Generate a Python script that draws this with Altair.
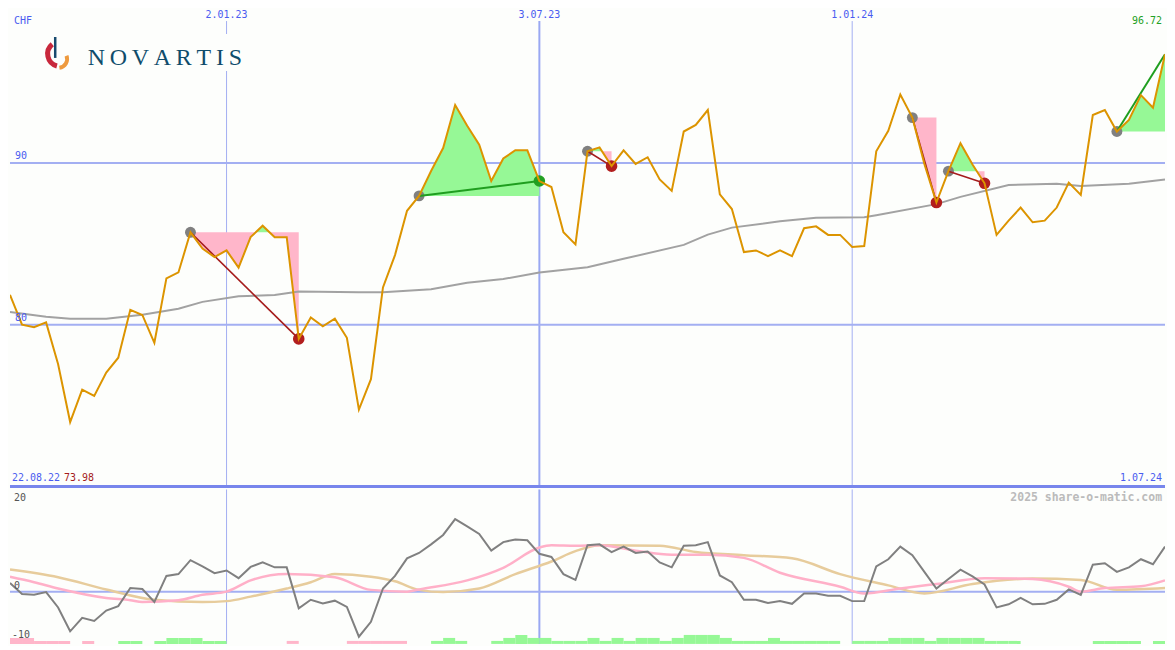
import altair as alt
import pandas as pd

# ---------------- data ----------------
START = "2022-08-29"
END = "2024-07-01"

# weekly closing price (CHF), one value per week from START
price = [81.84, 80.0, 79.84, 80.14, 77.55, 73.98, 75.98, 75.6, 77.04, 77.96,
         80.92, 80.6, 78.88, 82.86, 83.23, 85.71, 84.7, 84.18, 84.59, 83.53,
         85.41, 86.12, 85.41, 85.41, 79.12, 80.45, 79.9, 80.37, 79.19, 74.75,
         76.63, 82.3, 84.3, 87.04, 87.96, 89.5, 90.92, 93.58, 92.29, 91.12,
         88.88, 90.27, 90.78, 90.78, 88.88, 88.51, 85.71, 84.96, 90.72, 90.96,
         89.8, 90.78, 89.94, 90.35, 88.98, 88.27, 91.94, 92.35, 93.27, 88.06,
         87.15, 84.49, 84.59, 84.24, 84.59, 84.24, 85.96, 86.08, 85.55, 85.55,
         84.8, 84.86, 90.72, 91.98, 94.23, 92.8, 89.94, 87.55, 89.49, 91.22,
         89.9, 88.74, 85.55, 86.43, 87.24, 86.33, 86.43, 87.24, 88.78, 88.02,
         92.96, 93.27, 91.94, 92.66, 94.19, 93.41, 96.72]

# long moving average (week index, value)
ma_week = [0, 3, 5, 8, 11, 14, 16, 19, 22, 24, 29, 31, 35, 38, 41, 44, 48, 51, 56, 58,
           60, 64, 67, 71, 72, 77, 79, 83, 87, 89, 93, 96]
ma_val = [80.78, 80.49, 80.37, 80.37, 80.61, 80.98, 81.41, 81.75, 81.84, 82.05,
          82.0, 82.0, 82.19, 82.59, 82.82, 83.23, 83.55, 84.07, 84.93, 85.57,
          86.0, 86.39, 86.61, 86.64, 86.77, 87.45, 87.9, 88.63, 88.71, 88.57,
          88.71, 88.98]

# oscillator (one per week)
osc = [1.9, -0.5, -0.7, -0.1, -3.5, -8.8, -5.8, -6.5, -4.2, -3.2,
       0.8, 0.6, -2.3, 3.5, 3.9, 7.0, 5.6, 4.1, 4.7, 3.0,
       5.5, 6.5, 5.4, 5.4, -3.7, -1.8, -2.6, -2.0, -3.4, -10.0,
       -6.7, 0.7, 3.5, 7.4, 8.6, 10.5, 12.6, 16.1, 14.5, 12.8,
       9.1, 11.0, 11.6, 11.4, 8.4, 7.7, 3.9, 2.6, 10.3, 10.5,
       8.8, 10.0, 8.6, 8.9, 6.5, 5.4, 10.2, 10.3, 11.0, 3.6,
       2.1, -1.8, -1.8, -2.5, -2.1, -2.7, -0.4, -0.4, -0.9, -0.9,
       -2.1, -2.1, 5.6, 7.2, 10.0, 8.1, 4.4, 0.7, 2.8, 4.9,
       3.4, 1.6, -3.5, -2.8, -1.4, -2.8, -2.7, -1.8, 0.5, -0.7,
       6.0, 6.3, 4.4, 5.4, 7.2, 6.1, 10.0]

# smoothed oscillator lines
pk_week = [0, 2, 4, 8, 10, 11, 14, 16, 18, 20, 23, 27, 30, 33, 34, 38, 41, 44, 45, 47,
           49, 52, 55, 58, 61, 64, 69, 71, 74, 77, 81, 85, 88, 89, 91, 94, 96]
pk_val = [3.3, 2.1, 0.7, -1.4, -1.9, -2.3, -1.9, -0.7, 0.0, 2.5, 3.9, 3.2, 0.4, 0.0, 0.5,
          2.5, 5.3, 9.8, 10.3, 10.2, 10.3, 9.1, 8.2, 8.2, 7.5, 4.2, 1.1, -0.4, 0.7, 1.7,
          3.0, 2.8, 1.1, 0.0, 0.8, 1.2, 2.5]
tn_week = [0, 4, 8, 12, 16, 18, 20, 23, 25, 27, 30, 32, 34, 36, 39, 42, 45, 47, 49, 54,
           57, 61, 65, 69, 73, 76, 80, 85, 89, 92, 96]
tn_val = [4.9, 3.2, 0.5, -1.8, -2.3, -2.1, -1.1, 0.7, 2.1, 3.9, 3.3, 2.3, 0.4, -0.1, 0.7,
          3.9, 6.7, 9.0, 10.3, 10.2, 8.8, 8.1, 7.4, 3.9, 1.4, -0.4, 1.7, 2.9, 2.6, 0.4, 0.8]

# weekly histogram levels (sign = colour, magnitude = height)
hist = [-2, -2, -1, -1, -1, 0, -1, 0, 0, 1,
        1, 0, 1, 2, 2, 2, 1, 1, 0, 0,
        0, 0, 0, -1, 0, 0, 0, 0, -1, -1,
        -1, -1, -1, 0, 0, 1, 2, 1, 0, 0,
        1, 2, 3, 2, 2, 1, 1, 1, 2, 1,
        2, 1, 2, 2, 1, 2, 3, 3, 3, 2,
        1, 1, 1, 2, 1, 1, 1, 1, 1, 0,
        1, 1, 1, 2, 2, 2, 1, 2, 2, 2,
        2, 1, 1, 1, 0, 0, 0, 0, 0, 0,
        1, 1, 1, 1, 0, 1, 0]

# trade signals (start week, end week)
sig_start = [15, 34, 48, 75, 78, 92]
sig_end = [24, 44, 50, 77, 81, 96]
sig_closed = [True, True, True, True, True, False]

price_levels = [90, 80]
price_level_labels = ["90", "80"]
grid_dates = ["2023-01-02", "2023-07-03", "2024-01-01"]
grid_labels = ["2.01.23", "3.07.23", "1.01.24"]
half_year = "2023-07-03"
osc_labels = ["20", "0", "-10"]
first_date_label = "22.08.22"
last_date_label = "1.07.24"
low_label = "73.98"
high_label = "96.72"
currency_label = "CHF"
company = "NOVARTIS"
credit = "2025 share-o-matic.com"

# ---------------- layout / style ----------------
REF_W, REF_TOP, REF_BOT = 1175, 487, 650
W = 1159                    # fits the page width (8px margins)
SX = W / REF_W
TOP_OFF = 8                 # top panel shows reference rows 8..487 unscaled
H_TOP = REF_TOP - TOP_OFF
H_BOT = 155
SYB = H_BOT / (REF_BOT - REF_TOP)


def px(x):
    return x * SX


def yt(y):
    return y - TOP_OFF


def yb(y):
    return (y - REF_TOP) * SYB


BG = "#FDFEFC"
GRID = "#A3AFF2"
GRID_HALF = "#9AA8F2"
LBL = "#4A5CF0"
MONO = "DejaVu Sans Mono"
PINK = "#FFB6CA"
GREEN = "#96F896"
LOSS_LINE = "#A51C1C"
LOSS_DOT = "#B21E1E"
GAIN_LINE = "#1F9E1F"
GAIN_DOT = "#23A023"

t0 = pd.Timestamp(START)
span = (pd.Timestamp(END) - t0).days
xs = alt.Scale(domain=[0, span], nice=False, zero=False)
ys_top = alt.Scale(domain=[70, 100 - TOP_OFF * 30.0 / REF_TOP], nice=False, zero=False)
ys_bot = alt.Scale(domain=[-11.6, 22.7], nice=False, zero=False)


def X(f="d"):
    return alt.X(f"{f}:Q", scale=xs, axis=None)


weeks = list(range(len(price)))
df = pd.DataFrame({"d": [7 * i for i in weeks], "price": price, "osc": osc})
df_ma = pd.DataFrame({"d": [7 * i for i in ma_week], "v": ma_val})
df_pk = pd.DataFrame({"d": [7 * i for i in pk_week], "v": pk_val})
df_tn = pd.DataFrame({"d": [7 * i for i in tn_week], "v": tn_val})
df_hist = pd.DataFrame({
    "d": [7 * i for i in weeks],
    "d2": [7 * (i + 1) for i in weeks],
    "h": [abs(h) for h in hist],
    "neg": [h < 0 for h in hist],
})
df_hist = df_hist[df_hist["h"] > 0]

df_grid = pd.DataFrame({
    "d": [(pd.Timestamp(g) - t0).days for g in grid_dates],
    "lbl": grid_labels,
    "half": [g == half_year for g in grid_dates],
})
df_lvl = pd.DataFrame({"v": price_levels, "lbl": price_level_labels})

# fills between the signal entry level and the price line
rows = []
for k, (s, e) in enumerate(zip(sig_start, sig_end)):
    lvl = price[s]
    pts = []
    for i in range(s, e):
        x0, y0, x1, y1 = 7 * i, price[i], 7 * (i + 1), price[i + 1]
        pts.append((x0, y0))
        if (y0 - lvl) * (y1 - lvl) < 0:
            t = (lvl - y0) / (y1 - y0)
            pts.append((x0 + t * (x1 - x0), lvl))
    pts.append((7 * e, price[e]))
    for x, y in pts:
        rows.append({"sig": k, "d": x, "lvl": lvl, "hi": max(y, lvl), "lo": min(y, lvl)})
df_fill = pd.DataFrame(rows)

seg_rows = []
for k, (s, e) in enumerate(zip(sig_start, sig_end)):
    gain = price[e] > price[s]
    seg_rows.append({"sig": k, "d": 7 * s, "p": price[s], "gain": gain})
    seg_rows.append({"sig": k, "d": 7 * e, "p": price[e], "gain": gain})
df_seg = pd.DataFrame(seg_rows)
df_start = pd.DataFrame({"d": [7 * s for s in sig_start], "p": [price[s] for s in sig_start]})
df_end = pd.DataFrame({
    "d": [7 * e for e, c in zip(sig_end, sig_closed) if c],
    "p": [price[e] for e, c in zip(sig_end, sig_closed) if c],
    "gain": [price[e] > price[s] for s, e, c in zip(sig_start, sig_end, sig_closed) if c],
})

one = pd.DataFrame({"a": [0]})

# ---------------- top panel ----------------
vgrid_thin = alt.Chart(df_grid).transform_filter("!datum.half").mark_rule(
    color=GRID, strokeWidth=1).encode(x=X(), y=alt.value(yt(20)), y2=alt.value(H_TOP))
vgrid_half = alt.Chart(df_grid).transform_filter("datum.half").mark_rule(
    color=GRID_HALF, strokeWidth=2).encode(x=X(), y=alt.value(yt(20)), y2=alt.value(H_TOP))
hgrid = alt.Chart(df_lvl).mark_rule(color=GRID, strokeWidth=2).encode(
    y=alt.Y("v:Q", scale=ys_top, axis=None))
sep = alt.Chart(one).mark_rule(color="#7886EC", strokeWidth=3).encode(
    x=alt.value(0), x2=alt.value(W), y=alt.value(H_TOP))

fill_g = alt.Chart(df_fill).mark_area(color=GREEN, opacity=1, clip=True).encode(
    x=X(), y=alt.Y("hi:Q", scale=ys_top, axis=None), y2="lvl:Q", detail="sig:N")
fill_p = alt.Chart(df_fill).mark_area(color=PINK, opacity=1, clip=True).encode(
    x=X(), y=alt.Y("lo:Q", scale=ys_top, axis=None), y2="lvl:Q", detail="sig:N")

ma_line = alt.Chart(df_ma).mark_line(color="#A2A2A2", strokeWidth=2, clip=True).encode(
    x=X(), y=alt.Y("v:Q", scale=ys_top, axis=None))
start_dots = alt.Chart(df_start).mark_circle(color="#808080", size=120, opacity=1).encode(
    x=X(), y=alt.Y("p:Q", scale=ys_top, axis=None))
end_loss = alt.Chart(df_end).transform_filter("!datum.gain").mark_circle(
    color=LOSS_DOT, size=135, opacity=1).encode(x=X(), y=alt.Y("p:Q", scale=ys_top, axis=None))
end_gain = alt.Chart(df_end).transform_filter("datum.gain").mark_circle(
    color=GAIN_DOT, size=135, opacity=1).encode(x=X(), y=alt.Y("p:Q", scale=ys_top, axis=None))
seg_loss = alt.Chart(df_seg).transform_filter("!datum.gain").mark_line(
    color=LOSS_LINE, strokeWidth=1.6).encode(
    x=X(), y=alt.Y("p:Q", scale=ys_top, axis=None), detail="sig:N")
seg_gain = alt.Chart(df_seg).transform_filter("datum.gain").mark_line(
    color=GAIN_LINE, strokeWidth=2, clip=True).encode(
    x=X(), y=alt.Y("p:Q", scale=ys_top, axis=None), detail="sig:N")
price_line = alt.Chart(df).mark_line(color="#DC9400", strokeWidth=2, clip=True).encode(
    x=X(), y=alt.Y("price:Q", scale=ys_top, axis=None))

date_txt = alt.Chart(df_grid).mark_text(font=MONO, fontSize=10, color=LBL,
                                        baseline="middle", align="center").encode(
    x=X(), y=alt.value(6), text="lbl:N")
lvl_txt = alt.Chart(df_lvl).mark_text(font=MONO, fontSize=10, color=LBL, align="left",
                                      baseline="middle", dy=-7).encode(
    x=alt.value(px(5)), y=alt.Y("v:Q", scale=ys_top, axis=None), text="lbl:N")


def label(txt, x, y, color=LBL, align="left", size=10, weight="normal", font=MONO):
    return alt.Chart(pd.DataFrame({"t": [txt]})).mark_text(
        font=font, fontSize=size, color=color, align=align, baseline="middle",
        fontWeight=weight).encode(x=alt.value(x), y=alt.value(y), text="t:N")


chf = label(currency_label, px(4), yt(20))
hi_txt = label(high_label, px(1172), yt(20), color=GAIN_DOT, align="right")
first_txt = label(first_date_label, px(2), yt(479))
low_txt = label(low_label, px(55), yt(479), color=LOSS_LINE)
last_txt = label(last_date_label, px(1172), yt(479), align="right")

logo_bg = alt.Chart(one).mark_rect(color=BG).encode(
    x=alt.value(px(30)), x2=alt.value(px(240)), y=alt.value(yt(33)), y2=alt.value(yt(70)))
flame_red = alt.Chart(one).mark_arc(innerRadius=10, outerRadius=15, theta=3.4, theta2=5.6,
                                    color="#C8283C").encode(x=alt.value(px(51)), y=alt.value(yt(53)))
flame_orange = alt.Chart(one).mark_arc(innerRadius=7, outerRadius=11, theta=1.2, theta2=3.0,
                                       color="#EE9A3E").encode(x=alt.value(px(49)), y=alt.value(yt(58)))
flame_bar = alt.Chart(one).mark_rule(color="#184A6E", strokeWidth=2.5).encode(
    x=alt.value(px(46)), y=alt.value(yt(36)), y2=alt.value(yt(57)))
logo_txt = label("\u2009".join(company), px(79), yt(57), color="#0F4C6B", size=24,
                 font="Liberation Serif")

top = alt.layer(
    vgrid_thin, vgrid_half, hgrid, sep,
    fill_p, fill_g, ma_line, start_dots, end_loss, end_gain, seg_loss, seg_gain, price_line,
    date_txt, lvl_txt, chf, hi_txt, first_txt, low_txt, last_txt,
    logo_bg, flame_red, flame_orange, flame_bar, logo_txt,
).properties(width=W, height=H_TOP)

# ---------------- bottom panel ----------------
vgrid_thin_b = alt.Chart(df_grid).transform_filter("!datum.half").mark_rule(
    color=GRID, strokeWidth=1).encode(x=X(), y=alt.value(0), y2=alt.value(H_BOT))
vgrid_half_b = alt.Chart(df_grid).transform_filter("datum.half").mark_rule(
    color=GRID_HALF, strokeWidth=2).encode(x=X(), y=alt.value(0), y2=alt.value(H_BOT))
zero = alt.Chart(pd.DataFrame({"v": [0]})).mark_rule(color=GRID, strokeWidth=2).encode(
    y=alt.Y("v:Q", scale=ys_bot, axis=None))
hscale = alt.Scale(domain=[0, H_BOT / 3.0], nice=False, zero=True)
bars_neg = alt.Chart(df_hist).transform_filter("datum.neg").mark_rect(color=PINK, clip=True).encode(
    x=X(), x2="d2:Q", y=alt.Y("h:Q", scale=hscale, axis=None), y2=alt.value(H_BOT))
bars_pos = alt.Chart(df_hist).transform_filter("!datum.neg").mark_rect(color=GREEN, clip=True).encode(
    x=X(), x2="d2:Q", y=alt.Y("h:Q", scale=hscale, axis=None), y2=alt.value(H_BOT))
tan_line = alt.Chart(df_tn).mark_line(color="#E7CC9C", strokeWidth=2.5, interpolate="monotone",
                                      clip=True).encode(
    x=X(), y=alt.Y("v:Q", scale=ys_bot, axis=None))
pink_line = alt.Chart(df_pk).mark_line(color="#FFB0C8", strokeWidth=2.5, interpolate="monotone",
                                       clip=True).encode(
    x=X(), y=alt.Y("v:Q", scale=ys_bot, axis=None))
osc_line = alt.Chart(df).mark_line(color="#808080", strokeWidth=2, clip=True).encode(
    x=X(), y=alt.Y("osc:Q", scale=ys_bot, axis=None))
osc_20 = label(osc_labels[0], px(4), yb(496), color="#555555")
osc_0 = label(osc_labels[1], px(4), yb(589), color="#555555")
osc_m10 = label(osc_labels[2], px(2), yb(641), color="#555555")
credit_txt = label(credit, px(1172), yb(496), color="#BBBBBB", align="right", size=11.5,
                   weight="bold")

bottom = alt.layer(
    vgrid_thin_b, vgrid_half_b, zero, bars_neg, bars_pos, tan_line, pink_line, osc_line,
    osc_20, osc_0, osc_m10, credit_txt,
).resolve_scale(y="independent").properties(width=W, height=H_BOT)

chart = alt.vconcat(top, bottom, spacing=0).properties(
    padding=0,
    background=BG,
).configure_view(stroke=None)

chart.save("out.html", embed_options={"renderer": "svg", "actions": False})
